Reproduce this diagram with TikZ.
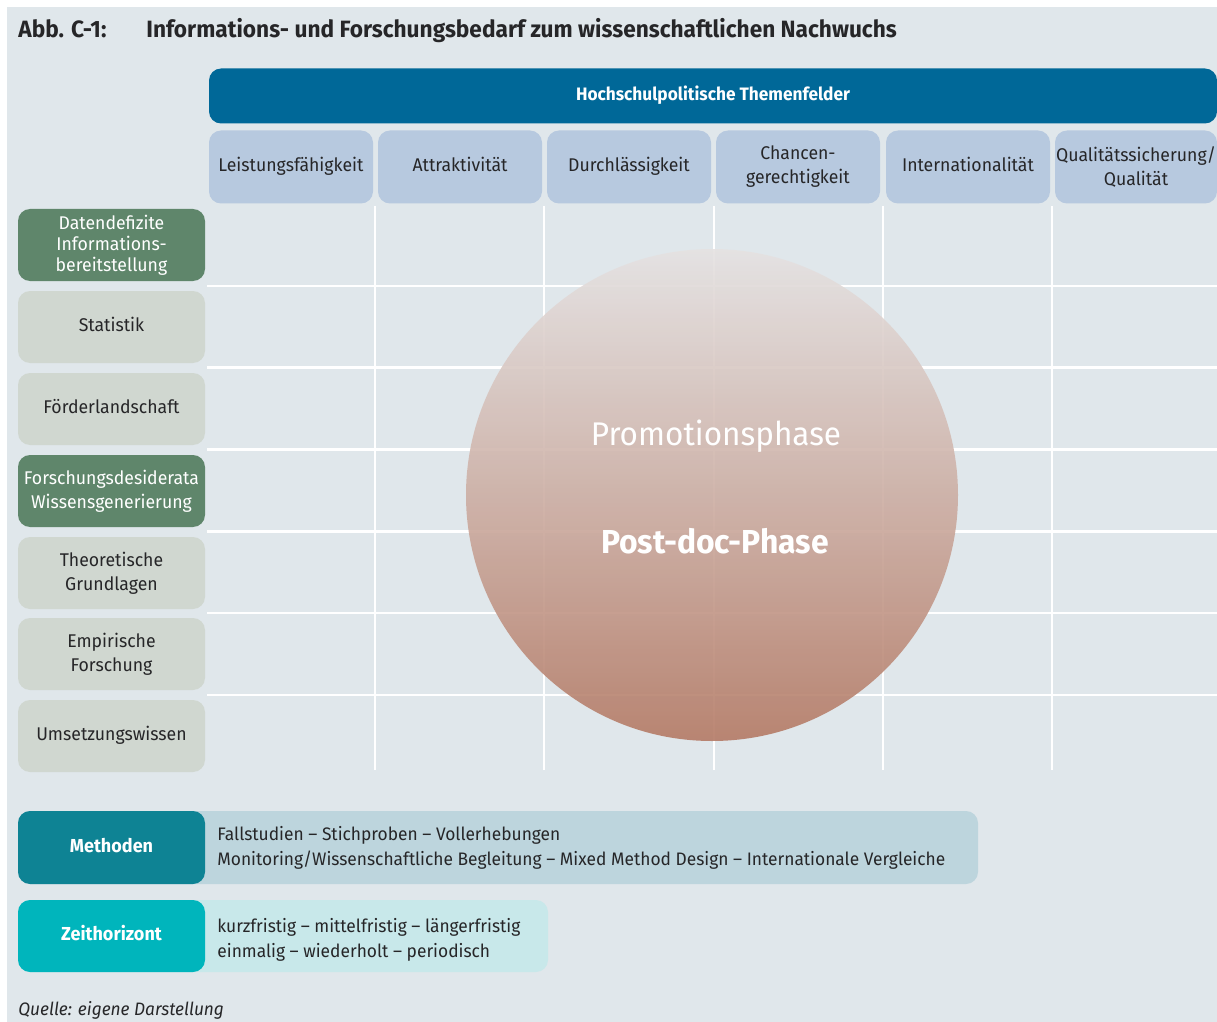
\documentclass[tikz,border=0pt]{standalone}
\usepackage{fontspec}
\setmainfont{Fira Sans}[FakeStretch=0.96]
\definecolor{panel}{RGB}{224, 231, 235}
\definecolor{topbar}{RGB}{0, 104, 152}
\definecolor{colhead}{RGB}{183, 201, 223}
\definecolor{darkgreen}{RGB}{95, 134, 107}
\definecolor{lightgreen}{RGB}{208, 215, 208}
\definecolor{methdark}{RGB}{14, 131, 148}
\definecolor{methlight}{RGB}{189, 213, 221}
\definecolor{zeitdark}{RGB}{0, 181, 188}
\definecolor{zeitlight}{RGB}{200, 232, 234}
\definecolor{ink}{RGB}{38, 38, 40}
\definecolor{circtop}{RGB}{229, 226, 226}
\definecolor{circmid}{RGB}{211, 187, 178}
\definecolor{circbot}{RGB}{180, 122, 101}

\tikzset{
  box/.style={rounded corners=6pt, inner sep=0pt, align=center,
    font=\fontsize{9.2}{12}\selectfont},
  oneline/.style={execute at begin node=\strut},
  twolines/.style={execute at begin node={\rule{0pt}{11.6pt}}},
  rowlight/.style={box, fill=lightgreen, text=ink,
    minimum width=93.5pt, minimum height=36pt},
  rowdark/.style={box, fill=darkgreen, text=white,
    minimum width=93.5pt, minimum height=36pt},
  colbox/.style={box, fill=colhead, text=ink,
    minimum width=82pt, minimum height=36.5pt},
  keybox/.style={box, oneline, text=white, minimum width=93.5pt, minimum height=36.5pt,
    font=\fontsize{9.4}{12}\selectfont\bfseries},
  infotext/.style={anchor=west, align=left, inner sep=0pt, text=ink,
    font=\fontsize{9.05}{12.6}\selectfont},
  gridline/.style={white, line width=1.3pt}
}

\begin{document}
\begin{tikzpicture}[x=0.5pt, y=-0.5pt]

  \useasboundingbox (0, 0) rectangle (1217, 1022);
  \fill[white] (0, 0) rectangle (1217, 1022);
  \fill[panel] (7, 7) rectangle (1217, 1022);

  % title
  \node[anchor=base west, inner sep=0pt, text=ink,
    font=\fontsize{11.8}{14}\selectfont\bfseries] (abb) at (18, 38) {Abb. C-1:};
  \node[anchor=base west, inner sep=0pt, text=ink,
    font=\fontsize{11.8}{14}\selectfont\bfseries] (titel) at (146, 38)
    {Informations- und Forschungsbedarf zum wissenschaftlichen Nachwuchs};

  % themenfelder
  \node[box, oneline, fill=topbar, text=white, minimum width=504pt, minimum height=27.5pt,
    font=\fontsize{9}{11}\selectfont\bfseries] (themen) at (713, 96)
    {Hochschulpolitische Themenfelder};

  \node[colbox, oneline] (leist) at (291, 167) {Leistungsfähigkeit};
  \node[colbox, oneline] (attr) at (460, 167) {Attraktivität};
  \node[colbox, oneline] (durch) at (629, 167) {Durchlässigkeit};
  \node[colbox, twolines] (chanc) at (798, 167) {Chancen-\\gerechtigkeit};
  \node[colbox, oneline] (inter) at (968, 167) {Internationalität};
  \node[colbox, twolines, minimum width=81pt] (quali) at (1136, 167)
    {Qualitätssicherung/\\Qualität};

  % grid
  \foreach \x in {375, 544, 714, 883, 1052}
    \draw[gridline] (\x, 206) -- (\x, 770);
  \foreach \i in {1, ..., 6}
    \draw[gridline] (207, 204 + 81.8*\i) -- (1217, 204 + 81.8*\i);

  % rows
  \node[rowdark, twolines, font=\fontsize{9.2}{10.6}\selectfont] (daten) at (111.5, 245)
    {Datendefizite\\Informations-\\bereitstellung};
  \node[rowlight, oneline] (stat) at (111.5, 327) {Statistik};
  \node[rowlight, oneline] (foerd) at (111.5, 409) {Förderlandschaft};
  \node[rowdark, twolines] (desid) at (111.5, 491) {Forschungsdesiderata\\Wissensgenerierung};
  \node[rowlight, twolines] (theo) at (111.5, 573) {Theoretische\\Grundlagen};
  \node[rowlight, twolines] (empi) at (111.5, 654) {Empirische\\Forschung};
  \node[rowlight, oneline] (umse) at (111.5, 736) {Umsetzungswissen};

  % phasen
  \node[circle, minimum size=246pt, inner sep=0pt, fill opacity=0.9,
    top color=circtop, middle color=circmid, bottom color=circbot] (phase)
    at (712, 495) {};
  \node[anchor=base, inner sep=0pt, text=white,
    font=\fontsize{16.4}{18}\selectfont] (promo) at (716, 445) {Promotionsphase};
  \node[anchor=base, inner sep=0pt, text=white,
    font=\fontsize{16.6}{18}\selectfont\bfseries] (postdoc) at (715, 553)
    {Post-doc-Phase};

  % methoden
  \node[box, fill=methlight, minimum width=480pt, minimum height=36.5pt]
    (methinfo) at (498, 847.5) {};
  \node[keybox, fill=methdark] (meth) at (111.5, 847.5) {Methoden};
  \node[infotext] (methtext) at (217, 848)
    {Fallstudien – Stichproben – Vollerhebungen\\
     Monitoring/Wissenschaftliche Begleitung – Mixed Method Design – Internationale Vergleiche};

  % zeithorizont
  \node[box, fill=zeitlight, minimum width=265pt, minimum height=36pt]
    (zeitinfo) at (283, 936) {};
  \node[keybox, fill=zeitdark, minimum height=36pt] (zeit) at (111.5, 936) {Zeithorizont};
  \node[infotext] (zeittext) at (217, 940)
    {kurzfristig – mittelfristig – längerfristig\\
     einmalig – wiederholt – periodisch};

  \node[anchor=base west, inner sep=0pt, text=ink,
    font=\fontsize{9}{11}\selectfont\itshape] (quelle) at (18, 1015)
    {Quelle: eigene Darstellung};

\end{tikzpicture}
\end{document}
